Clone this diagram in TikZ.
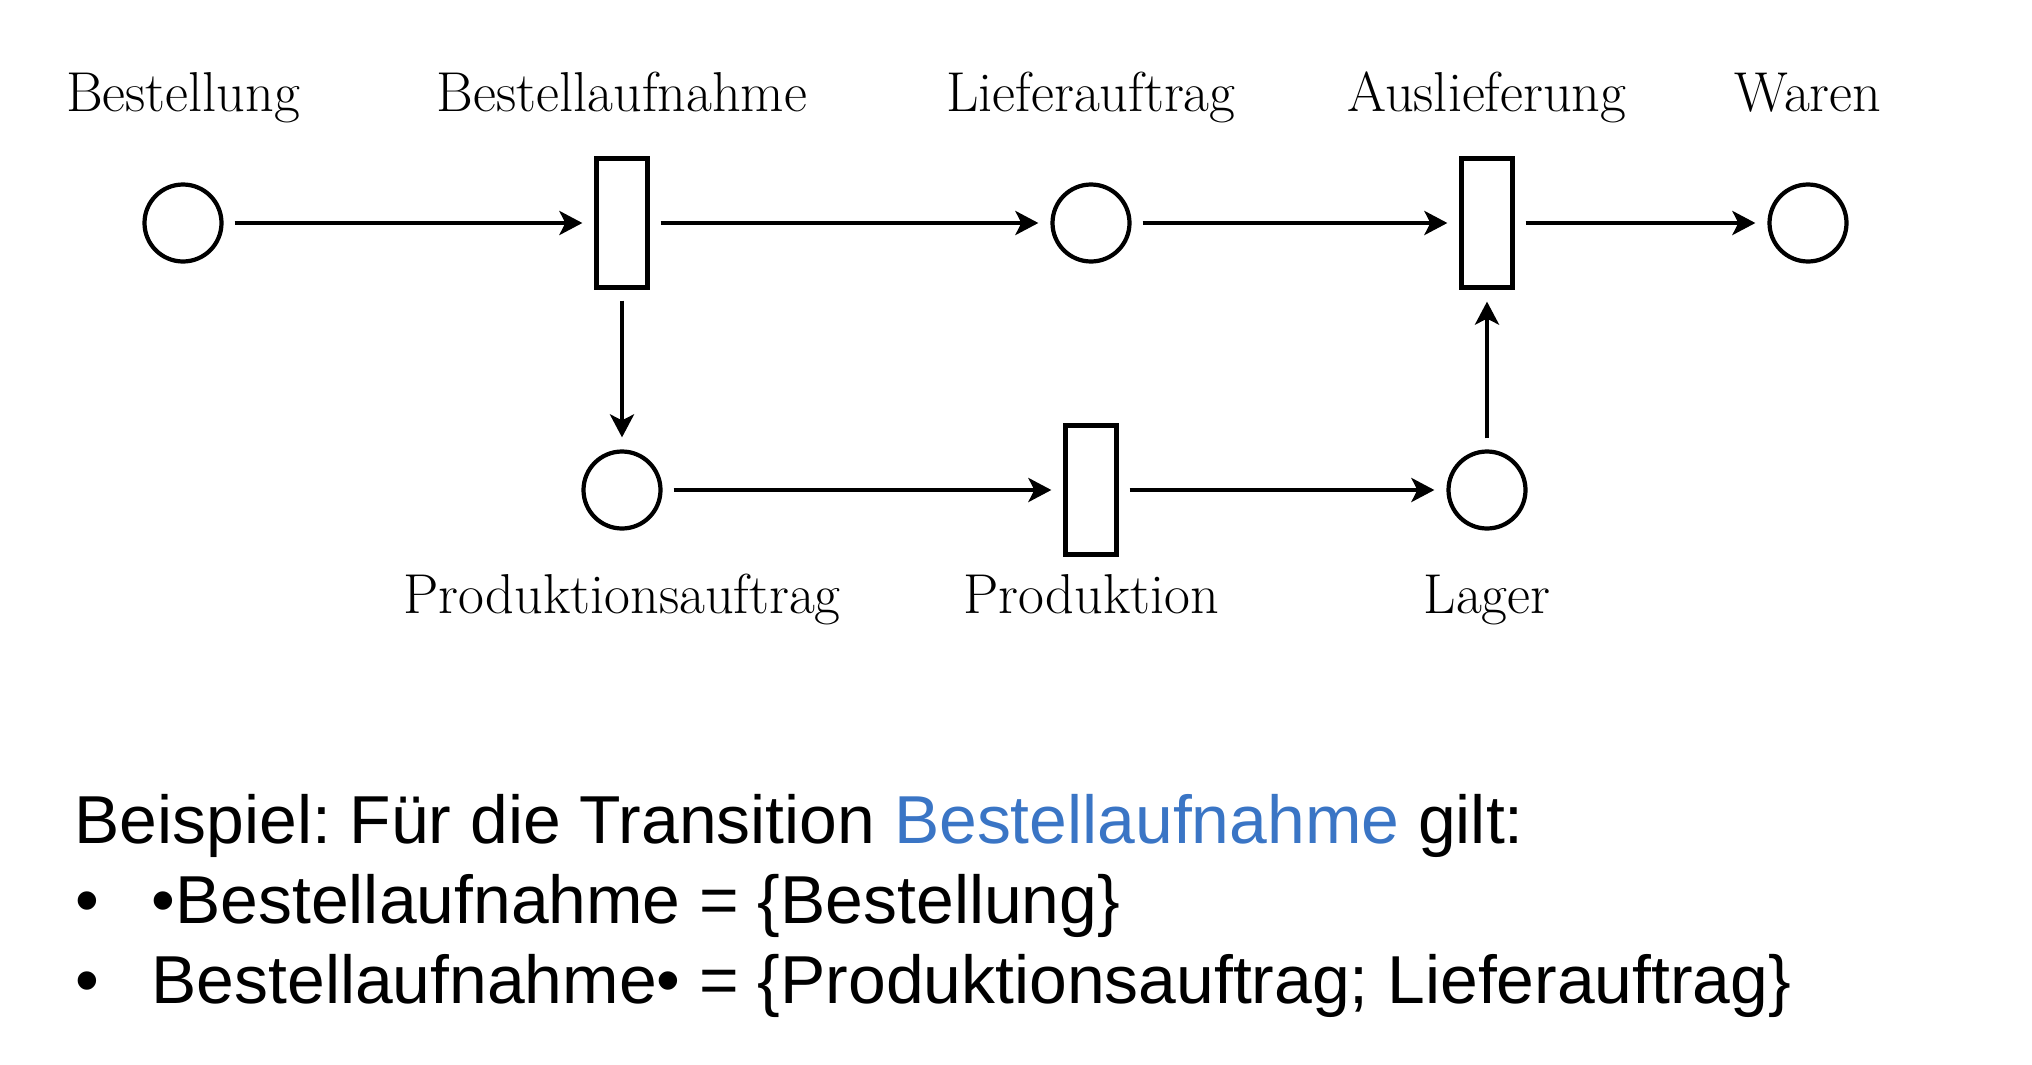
\documentclass[tikz,border=0pt]{standalone}
\usepackage{fontspec}
\usetikzlibrary{arrows.meta,positioning}
\newfontfamily\arialfont{Liberation Sans}
\definecolor{linkblue}{HTML}{3A75C5}
\frenchspacing

\begin{document}
\begin{tikzpicture}[
    place/.style = {circle, draw, line width=1.2pt, minimum size=7.7mm, inner sep=0pt},
    transition/.style = {rectangle, draw, line width=1.2pt, minimum width=5.1mm, minimum height=12.9mm, inner sep=0pt},
    lbl/.style = {anchor=base, inner sep=0pt, font=\fontsize{16}{19}\selectfont},
    flow/.style = {-{Stealth[length=2.3mm, width=2.4mm, inset=0.6mm]}, line width=1.4pt, shorten <=1.1mm, shorten >=1.2mm},
    txt/.style = {anchor=base west, inner sep=0pt, font=\arialfont\fontsize{19.3}{23}\selectfont}
]
    \useasboundingbox (0,0) rectangle (20.32,10.64);
    \pgfmathsetmacro{\rowTop}{8.41}  % units of cm
    \pgfmathsetmacro{\rowBot}{5.74}  % units of cm
    \pgfmathsetmacro{\lblTop}{9.52}  % baseline of the upper labels
    \pgfmathsetmacro{\lblBot}{4.51}  % baseline of the lower labels

    % places and transitions
    \node[place] (bestellung) at (1.83,\rowTop) {};
    \node[transition] (bestellaufnahme) at (6.22,\rowTop) {};
    \node[place] (lieferauftrag) at (10.91,\rowTop) {};
    \node[transition] (auslieferung) at (14.87,\rowTop) {};
    \node[place] (waren) at (18.08,\rowTop) {};
    \node[place] (produktionsauftrag) at (6.22,\rowBot) {};
    \node[transition] (produktion) at (10.91,\rowBot) {};
    \node[place] (lager) at (14.87,\rowBot) {};

    % names
    \node[lbl] (lblBestellung) at (bestellung |- 0,\lblTop) {Bestellung};
    \node[lbl] (lblBestellaufnahme) at (bestellaufnahme |- 0,\lblTop) {Bestellaufnahme};
    \node[lbl] (lblLieferauftrag) at (lieferauftrag |- 0,\lblTop) {Lieferauftrag};
    \node[lbl] (lblAuslieferung) at (auslieferung |- 0,\lblTop) {Auslieferung};
    \node[lbl] (lblWaren) at (waren |- 0,\lblTop) {Waren};
    \node[lbl] (lblProduktionsauftrag) at (produktionsauftrag |- 0,\lblBot) {Produktionsauftrag};
    \node[lbl] (lblProduktion) at (produktion |- 0,\lblBot) {Produktion};
    \node[lbl] (lblLager) at (lager |- 0,\lblBot) {Lager};

    % arcs
    \draw[flow] (bestellung) -- (bestellaufnahme);
    \draw[flow] (bestellaufnahme) -- (lieferauftrag);
    \draw[flow] (lieferauftrag) -- (auslieferung);
    \draw[flow] (auslieferung) -- (waren);
    \draw[flow] (bestellaufnahme) -- (produktionsauftrag);
    \draw[flow] (produktionsauftrag) -- (produktion);
    \draw[flow] (produktion) -- (lager);
    \draw[flow] (lager) -- (auslieferung);

    % example text
    \node[txt] (beispiel) at (0.74,2.21) {Beispiel: Für die Transition \textcolor{linkblue}{Bestellaufnahme} gilt:};
    \node[txt] (punktEins) at (0.75,1.41) {•};
    \node[txt] (vorbereich) at (1.51,1.41) {•Bestellaufnahme = \{Bestellung\}};
    \node[txt] (punktZwei) at (0.75,0.61) {•};
    \node[txt] (nachbereich) at (1.51,0.61) {Bestellaufnahme• = \{Produktionsauftrag; Lieferauftrag\}};
\end{tikzpicture}
\end{document}
